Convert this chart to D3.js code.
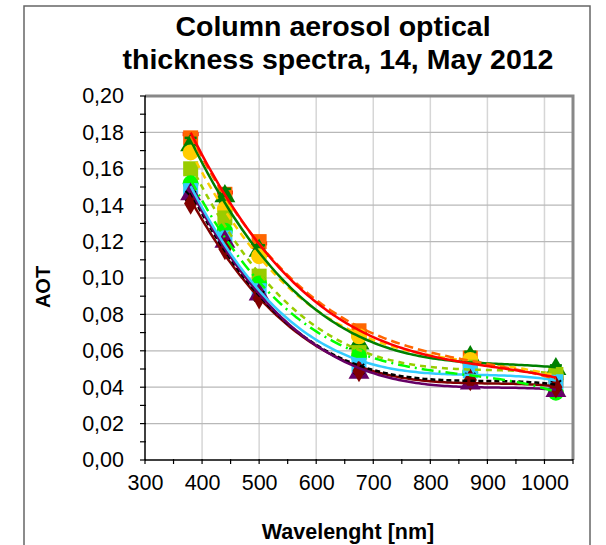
<!DOCTYPE html>
<html><head><meta charset="utf-8">
<script src="https://cdn.jsdelivr.net/npm/d3@7"></script>
<style>body{margin:0;background:#fff}svg{display:block}text{font-family:"Liberation Sans",Arial,sans-serif}</style>
</head><body><svg id="c" width="606" height="545"></svg>
<script>
const wavelengths = [380, 440, 500, 675, 870, 1020];
const xTicks = [300, 400, 500, 600, 700, 800, 900, 1000];
const yTicks = [0, 0.02, 0.04, 0.06, 0.08, 0.10, 0.12, 0.14, 0.16, 0.18, 0.20];
const sRed    = [0.179, 0.147, 0.119, 0.070, 0.054, 0.045];
const sOrange = [0.177, 0.146, 0.120, 0.071, 0.056, 0.044];
const sGreen  = [0.173, 0.145, 0.115, 0.064, 0.0565, 0.050];
const sYellow = [0.169, 0.138, 0.112, 0.068, 0.055, 0.046];
const sYGreen = [0.160, 0.133, 0.101, 0.059, 0.051, 0.047];
const sLime   = [0.152, 0.126, 0.097, 0.057, 0.048, 0.037];
const sCyan   = [0.148, 0.122, 0.093, 0.052, 0.049, 0.043];
const sPurple = [0.146, 0.120, 0.091, 0.048, 0.042, 0.038];
const sBlack  = [0.145, 0.118, 0.090, 0.050, 0.045, 0.041];
const sMaroon = [0.141, 0.116, 0.089, 0.049, 0.044, 0.040];
const greenErr = [0.004, 0.004, 0.003, 0.003, 0.003, 0.002];

const styles = [
  {v:sRed,    c:"#ff0000", dash:null,        m:"dash"},
  {v:sOrange, c:"#ff6600", dash:"9,5",       m:"square"},
  {v:sGreen,  c:"#008000", dash:null,        m:"triangle", err:greenErr},
  {v:sYellow, c:"#ffcc00", dash:"7,5",       m:"circle"},
  {v:sYGreen, c:"#99cc00", dash:"6,5",       m:"square"},
  {v:sLime,   c:"#00ff00", dash:"12,5,2,5",  m:"circle"},
  {v:sCyan,   c:"#33ccff", dash:null,        m:"square"},
  {v:sPurple, c:"#660066", dash:null,        m:"triangle"},
  {v:sBlack,  c:"#000000", dash:"5,3",       m:"x"},
  {v:sMaroon, c:"#800000", dash:null,        m:"diamond"}
];

const svg = d3.select("#c");
const L = 145, R = 573, T = 96, B = 460;
const x = d3.scaleLinear().domain([300, 1050]).range([L, R]);
const y = d3.scaleLinear().domain([0, 0.20]).range([B, T]);

svg.append("rect").attr("x",24).attr("y",6).attr("width",566).attr("height",600)
  .attr("fill","none").attr("stroke","#666").attr("stroke-width",1.5);

const title = svg.append("text").attr("text-anchor","middle").attr("font-weight","bold")
  .attr("font-size",28.5).attr("fill","#000");
title.append("tspan").attr("x",333).attr("y",36).text("Column aerosol optical");
title.append("tspan").attr("x",338).attr("y",69).text("thickness spectra, 14, May 2012");

svg.append("g").selectAll("line").data(xTicks.slice(1)).join("line")
  .attr("x1",d=>x(d)).attr("x2",d=>x(d)).attr("y1",T).attr("y2",B)
  .attr("stroke","#d6d6d6").attr("stroke-width",1.5);
svg.append("g").selectAll("line").data(yTicks.slice(1)).join("line")
  .attr("x1",L).attr("x2",R).attr("y1",d=>y(d)).attr("y2",d=>y(d))
  .attr("stroke","#b8b8b8").attr("stroke-width",1.2);

svg.append("path").attr("d",`M${L},${T}H${R}V${B}`).attr("fill","none")
  .attr("stroke","#888").attr("stroke-width",3);

const xAxis = d3.axisBottom(x).tickValues(xTicks).tickSize(0).tickPadding(15).tickFormat(d3.format("d"));
const gx = svg.append("g").attr("transform",`translate(0,${B})`).call(xAxis);
gx.select(".domain").remove();
gx.selectAll("text").attr("font-size",21.5).attr("fill","#000").attr("font-family","Liberation Sans, Arial, sans-serif");
const xMinor = d3.range(300, 1051, 50);
svg.append("g").selectAll("line").data(xMinor).join("line")
  .attr("x1",d=>x(d)).attr("x2",d=>x(d)).attr("y1",B-1).attr("y2",B+4)
  .attr("stroke","#000").attr("stroke-width",1.2);
svg.append("line").attr("x1",L).attr("x2",R).attr("y1",B).attr("y2",B).attr("stroke","#000").attr("stroke-width",1.5);

const fmt = d => d3.format(".2f")(d).replace(".", ",");
const yAxis = d3.axisLeft(y).tickValues(yTicks).tickSize(0).tickPadding(21).tickFormat(fmt);
const gy = svg.append("g").attr("transform",`translate(${L},0)`).call(yAxis);
gy.select(".domain").remove();
gy.selectAll("text").attr("font-size",21.5).attr("fill","#000").attr("font-family","Liberation Sans, Arial, sans-serif");
const yMinor = d3.range(0, 0.2001, 0.01);
svg.append("g").selectAll("line").data(yMinor).join("line")
  .attr("x1",L-5).attr("x2",L+1).attr("y1",d=>y(d)).attr("y2",d=>y(d))
  .attr("stroke","#000").attr("stroke-width",1.2);
svg.append("line").attr("x1",L).attr("x2",L).attr("y1",T).attr("y2",B).attr("stroke","#000").attr("stroke-width",1.5);

svg.append("text").attr("x",348).attr("y",539).attr("text-anchor","middle")
  .attr("font-weight","bold").attr("font-size",21.5).text("Wavelenght [nm]");
svg.append("text").attr("transform","translate(50,287) rotate(-90)").attr("text-anchor","middle")
  .attr("font-weight","bold").attr("font-size",20).text("AOT");

// polynomial least squares trendline (order 3), computed from the data
function polyFit(xs, ys, n){
  const m=n+1, A=[];
  for(let i=0;i<m;i++){ A.push(new Array(m+1).fill(0)); }
  xs.forEach((xv,idx)=>{ const t=xv/1000;
    for(let i=0;i<m;i++){ for(let j=0;j<m;j++) A[i][j]+=Math.pow(t,i+j); A[i][m]+=ys[idx]*Math.pow(t,i); } });
  for(let i=0;i<m;i++){ for(let j=i+1;j<m;j++){ const f=A[j][i]/A[i][i]; for(let k=i;k<=m;k++) A[j][k]-=f*A[i][k]; } }
  const c=new Array(m).fill(0);
  for(let i=m-1;i>=0;i--){ let s=A[i][m]; for(let k=i+1;k<m;k++) s-=A[i][k]*c[k]; c[i]=s/A[i][i]; }
  return xv=>{const t=xv/1000; let s=0; for(let i=0;i<m;i++) s+=c[i]*Math.pow(t,i); return s;};
}

const markers = svg.append("g");
styles.forEach(s=>{
  const g = markers.append("g");
  if (s.err){
    wavelengths.forEach((w,i)=>{
      const x0=x(w), y1=y(s.v[i]+s.err[i]), y2=y(s.v[i]-s.err[i]);
      g.append("line").attr("x1",x0).attr("x2",x0).attr("y1",y1).attr("y2",y2).attr("stroke",s.c).attr("stroke-width",2);
      [y1,y2].forEach(yy=>g.append("line").attr("x1",x0-6).attr("x2",x0+6).attr("y1",yy).attr("y2",yy).attr("stroke",s.c).attr("stroke-width",2.5));
    });
  }
  wavelengths.forEach((w,i)=>{
    const cx=x(w), cy=y(s.v[i]);
    if (s.m==="square") g.append("rect").attr("x",cx-7.5).attr("y",cy-7.5).attr("width",15).attr("height",15).attr("fill",s.c);
    else if (s.m==="circle") g.append("circle").attr("cx",cx).attr("cy",cy).attr("r",8).attr("fill",s.c);
    else if (s.m==="triangle") g.append("path").attr("d",d3.symbol(d3.symbolTriangle,190)()).attr("transform",`translate(${cx},${cy})`).attr("fill",s.c);
    else if (s.m==="diamond") g.append("path").attr("d",d3.symbol(d3.symbolDiamond,150)()).attr("transform",`translate(${cx},${cy})`).attr("fill",s.c);
    else if (s.m==="dash") g.append("rect").attr("x",cx-8).attr("y",cy-2).attr("width",16).attr("height",4).attr("fill",s.c);
    else if (s.m==="x") g.append("path").attr("d",d3.symbol(d3.symbolX,70)()).attr("transform",`translate(${cx},${cy})`).attr("stroke",s.c).attr("stroke-width",2);
  });
});

const lines = svg.append("g");
styles.slice().reverse().forEach(s=>{
  const f = polyFit(wavelengths, s.v, 3);
  const pts = d3.range(380, 1021, 5).map(w=>[w, f(w)]);
  lines.append("path").datum(pts)
    .attr("d", d3.line().x(d=>x(d[0])).y(d=>y(d[1])))
    .attr("fill","none").attr("stroke",s.c).attr("stroke-width",2.5)
    .attr("stroke-dasharray",s.dash);
});
</script></body></html>
